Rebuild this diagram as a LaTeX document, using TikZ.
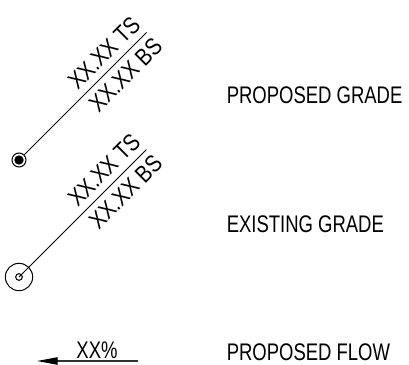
\documentclass[tikz,border=0pt]{standalone}
\usepackage{fontspec}
\setmainfont{Liberation Sans}
\newfontfamily\legendfont[FakeStretch=0.77]{Liberation Sans}
\newfontfamily\elevfont[FakeStretch=0.84]{Liberation Sans}
\usetikzlibrary{arrows.meta}
\tikzset{
  px/.style={x=0.75pt,y=-0.75pt},
  legend/.style={font=\legendfont\fontsize{18pt}{21pt}\selectfont,anchor=west,inner sep=0pt,text=black},
  elev/.style={font=\elevfont\fontsize{18pt}{21pt}\selectfont,inner sep=0pt,rotate=45,text=black},
  leader/.style={draw=black,line width=0.75pt},
  ringsym/.style={circle,draw=black,line width=0.75pt,fill=white,inner sep=0pt},
  flowline/.style={draw=black!80,line width=1pt,-{Triangle[length=15.5pt,width=5.5pt,black]}}
}
\begin{document}
\begin{tikzpicture}[px]
\useasboundingbox (0,0) rectangle (409,364);
\fill[white] (0,0) rectangle (409,364);
% proposed grade
\node[ringsym,minimum size=10.5pt] (p1) at (19,160) {};
\node[circle,fill=black,inner sep=0pt,minimum size=7pt] (p1d) at (p1) {};
\coordinate (p1e) at (146.5,32.5);
\draw[leader] (p1) -- (p1e);
\node[elev] (ts1) at (104,53) {XX.XX TS};
\node[elev] (bs1) at (125.5,75) {XX.XX BS};
% existing grade
\node[ringsym,minimum size=20.5pt] (e1) at (19,277) {};
\node[ringsym,minimum size=5pt] (e1d) at (e1) {};
\coordinate (e1e) at (146.5,149.5);
\draw[leader] (e1d.center) -- (e1e);
\node[elev] (ts2) at (104,170) {XX.XX TS};
\node[elev] (bs2) at (125.5,192) {XX.XX BS};
% flow
\coordinate (f0) at (138,361);
\coordinate (f1) at (37,361);
\draw[flowline] (f0) -- (f1);
\node[font=\legendfont\fontsize{18pt}{21pt}\selectfont,inner sep=0pt] (pct) at (97,350) {XX\%};
% labels
\node[legend] (l1) at (226.5,95) {PROPOSED GRADE};
\node[legend] (l2) at (226.5,224) {EXISTING GRADE};
\node[legend] (l3) at (226.5,352) {PROPOSED FLOW};
\end{tikzpicture}
\end{document}
